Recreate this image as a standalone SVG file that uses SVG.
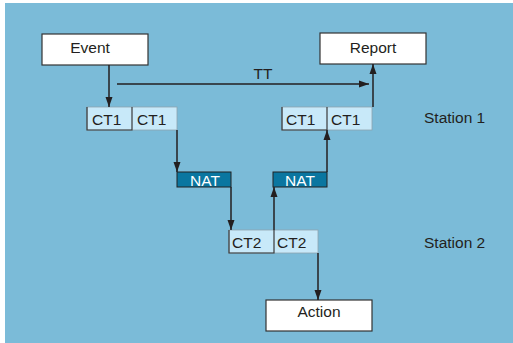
<svg xmlns="http://www.w3.org/2000/svg" width="513" height="343" viewBox="0 0 513 343">
<style>
.t{font-family:"Liberation Sans",Arial,sans-serif;font-size:15.5px;fill:#231F20}
.w{font-family:"Liberation Sans",Arial,sans-serif;font-size:15.5px;fill:#ffffff}
.box{fill:#ffffff;stroke:#333333;stroke-width:1.2}
.cell{fill:#C8E9F9;stroke:#8FA3AE;stroke-width:0.8}
.dk{stroke:#3A3A3A;stroke-width:1.2;fill:none}
.nat{fill:#0A76A0;stroke:#222222;stroke-width:1}
.c{stroke:#231F20;stroke-width:1.5;fill:none}
</style>
<defs>
<marker id="ah" viewBox="0 0 10 10" refX="10" refY="5" markerWidth="10" markerHeight="10" markerUnits="userSpaceOnUse" orient="auto">
<path d="M0,1.5 L10,5 L0,8.5 z" fill="#231F20"/>
</marker>
</defs>
<rect x="5" y="3" width="508" height="340" fill="#7BBBD8"/>

<g id="event"><rect class="box" x="42" y="34" width="106" height="31"/><text class="t" x="90" y="53" text-anchor="middle">Event</text></g>
<g id="report"><rect class="box" x="320" y="33" width="106" height="31"/><text class="t" x="373" y="53" text-anchor="middle">Report</text></g>
<g id="action"><rect class="box" x="266" y="300" width="106" height="31"/><text class="t" x="319" y="317" text-anchor="middle">Action</text></g>

<g id="ct1-left">
<rect class="cell" x="87" y="107" width="90" height="23"/>
<path class="dk" d="M87,107 V130 H132 V107"/>
<text class="t" x="92" y="125">CT1</text><text class="t" x="137" y="125">CT1</text>
</g>
<g id="ct1-right">
<rect class="cell" x="282" y="107" width="90" height="23"/>
<path class="dk" d="M282,107 V130 H327 V107"/>
<text class="t" x="286" y="125">CT1</text><text class="t" x="331" y="125">CT1</text>
</g>
<g id="nat-left"><rect class="nat" x="177" y="172" width="54" height="15"/><text class="w" x="205" y="186" text-anchor="middle">NAT</text></g>
<g id="nat-right"><rect class="nat" x="273" y="172" width="54" height="15"/><text class="w" x="300" y="186" text-anchor="middle">NAT</text></g>
<g id="ct2">
<rect class="cell" x="229" y="230" width="89" height="23"/>
<path class="dk" d="M229,230 V253 H274 V230"/>
<text class="t" x="232" y="248">CT2</text><text class="t" x="277" y="248">CT2</text>
</g>
<g id="station1"><text class="t" x="424" y="123">Station 1</text></g>
<g id="station2"><text class="t" x="424" y="248">Station 2</text></g>
<g id="tt-label"><text class="t" x="263" y="79" text-anchor="middle">TT</text></g>

<g id="connectors">
<line class="c" x1="109" y1="65" x2="109" y2="107" marker-end="url(#ah)"/>
<line class="c" x1="117" y1="84" x2="369" y2="84" marker-end="url(#ah)"/>
<line class="c" x1="373" y1="107" x2="373" y2="64" marker-end="url(#ah)"/>
<line class="c" x1="177" y1="130" x2="177" y2="172" marker-end="url(#ah)"/>
<line class="c" x1="327" y1="172" x2="327" y2="130" marker-end="url(#ah)"/>
<line class="c" x1="231" y1="187" x2="231" y2="230" marker-end="url(#ah)"/>
<line class="c" x1="274" y1="230" x2="274" y2="187" marker-end="url(#ah)"/>
<line class="c" x1="318" y1="253" x2="318" y2="300" marker-end="url(#ah)"/>
</g>
</svg>
